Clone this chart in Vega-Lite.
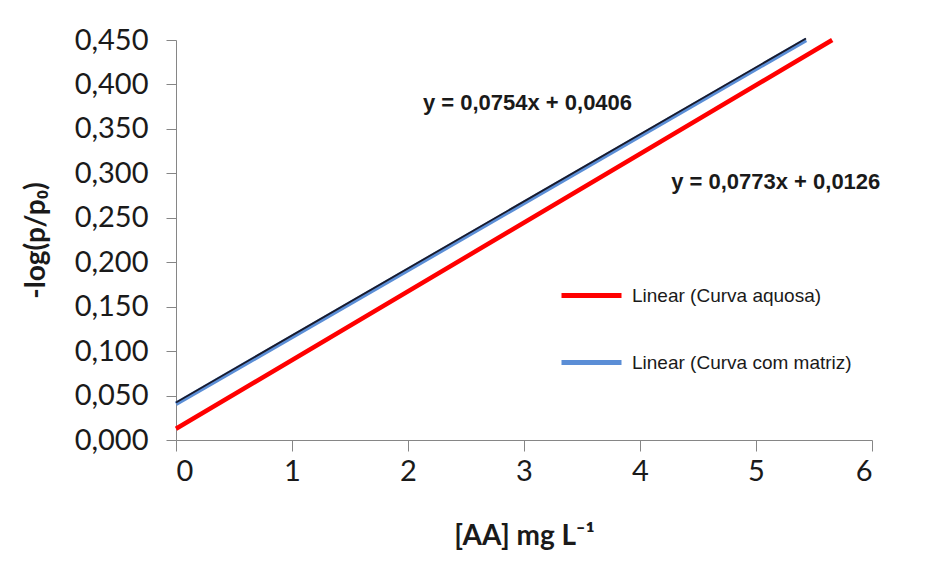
{
  "$schema": "https://vega.github.io/schema/vega-lite/v6.json",
  "autosize": {"type": "none"},
  "padding": {"left": 176, "top": 40, "right": 62, "bottom": 138},
  "width": 696,
  "height": 400,
  "background": "white",
  "config": {
    "view": {"stroke": null},
    "axis": {
      "domainColor": "#868686",
      "tickColor": "#868686",
      "grid": false,
      "labelFont": "Lato",
      "labelFontSize": 29,
      "labelColor": "#1a1a1a",
      "titleFont": "Lato",
      "titleFontWeight": "bold",
      "titleFontSize": 28,
      "titleColor": "#1a1a1a"
    }
  },
  "datasets": {
    "lines": [
      {"series": "Linear (Curva aquosa)", "x": 0, "y": 0.0126},
      {"series": "Linear (Curva aquosa)", "x": 5.657, "y": 0.45},
      {"series": "Linear (Curva com matriz)", "x": 0, "y": 0.0406},
      {"series": "Linear (Curva com matriz)", "x": 5.431, "y": 0.45}
    ],
    "labels": [
      {"label": "y = 0,0754x + 0,0406", "x": 3.03, "y": 0.379},
      {"label": "y = 0,0773x + 0,0126", "x": 5.17, "y": 0.290}
    ]
  },
  "layer": [
    {
      "data": {"name": "lines"},
      "mark": {"type": "line", "strokeWidth": 4.5},
      "encoding": {
        "x": {
          "field": "x", "type": "quantitative",
          "scale": {"domain": [0, 6], "nice": false},
          "axis": {"values": [0, 1, 2, 3, 4, 5, 6], "format": "d", "tickSize": 11, "labelPadding": 6, "title": "[AA] mg L⁻¹", "titlePadding": 36}
        },
        "y": {
          "field": "y", "type": "quantitative",
          "scale": {"domain": [0, 0.45], "nice": false},
          "axis": {
            "values": [0, 0.05, 0.1, 0.15, 0.2, 0.25, 0.3, 0.35, 0.4, 0.45],
            "labelExpr": "replace(format(datum.value, '.3f'), '.', ',')",
            "tickSize": 10, "labelPadding": 18,
            "title": "-log(p/p₀)", "titlePadding": 24
          }
        },
        "color": {
          "field": "series", "type": "nominal",
          "scale": {"domain": ["Linear (Curva aquosa)", "Linear (Curva com matriz)"], "range": ["#FF0000", "#5B8ED6"]},
          "legend": {
            "title": null,
            "orient": "none",
            "legendX": 383,
            "legendY": 223,
            "symbolType": "stroke",
            "symbolSize": 3600,
            "symbolStrokeWidth": 5,
            "labelFont": "Liberation Sans",
            "labelFontSize": 19,
            "labelColor": "#1a1a1a",
            "labelOffset": 8,
            "rowPadding": 24,
            "labelLimit": 400
          }
        }
      }
    },
    {
      "data": {"name": "lines"},
      "transform": [{"filter": "datum.series == 'Linear (Curva com matriz)'"}],
      "mark": {"type": "line", "strokeWidth": 1.8, "color": "#1a1a2a", "yOffset": -1.5},
      "encoding": {
        "x": {"field": "x", "type": "quantitative"},
        "y": {"field": "y", "type": "quantitative"}
      }
    },
    {
      "data": {"name": "labels"},
      "mark": {"type": "text", "font": "Liberation Sans", "fontWeight": "bold", "fontSize": 22, "color": "#1a1a1a", "align": "center", "baseline": "middle"},
      "encoding": {
        "x": {"field": "x", "type": "quantitative"},
        "y": {"field": "y", "type": "quantitative"},
        "text": {"field": "label"}
      }
    }
  ]
}
